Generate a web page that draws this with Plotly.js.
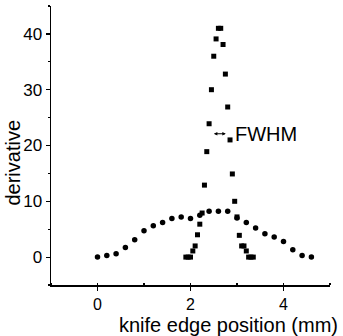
<!DOCTYPE html>
<html>
<head>
<meta charset="utf-8">
<script src="https://cdn.plot.ly/plotly-3.0.1.min.js"></script>
<style>html,body{margin:0;padding:0;background:#fff;}#chart{width:343px;height:336px;}</style>
</head>
<body>
<div id="chart"></div>
<script>
// Broad profile (circles)
const circleX = [0, 0.2, 0.4, 0.6, 0.8, 1.0, 1.2, 1.4, 1.6, 1.8, 2.0, 2.2, 2.4, 2.6, 2.8, 3.0, 3.2, 3.4, 3.6, 3.8, 4.0, 4.2, 4.4, 4.6];
const circleY = [0, 0.3, 0.6, 1.7, 3.1, 4.7, 5.6, 6.2, 6.9, 7.2, 6.9, 7.5, 8.2, 8.2, 8.2, 7.0, 6.2, 5.2, 4.2, 3.6, 2.8, 1.3, 0.3, 0];
// Narrow profile (squares)
const squareX = [1.9, 1.95, 2.0, 2.05, 2.1, 2.15, 2.2, 2.25, 2.3, 2.35, 2.4, 2.45, 2.5, 2.55, 2.6, 2.65, 2.7, 2.75, 2.8, 2.85, 2.9, 2.95, 3.0, 3.05, 3.1, 3.15, 3.2, 3.25, 3.3, 3.35];
const squareY = [0, 0, 0, 1.1, 2.0, 4.0, 5.9, 7.9, 12.9, 18.9, 23.9, 30, 36, 39.1, 41, 41, 38.1, 32.8, 26.9, 21, 14.9, 10, 7.2, 3.9, 2.0, 2.0, 1.1, 0, 0, 0];
// Axis ticks and labels
const xTicks = [0, 2, 4];
const yTicks = [0, 10, 20, 30, 40];
const xTitle = "knife edge position (mm)";
const yTitle = "derivative";
const fwhmLabel = "FWHM";
const fwhmArrowX = [2.47, 2.76];
const fwhmY = 22.1;

const font = "Liberation Sans, Arial, Helvetica, sans-serif";

const traces = [
  {x: circleX, y: circleY, type: "scatter", mode: "markers",
   marker: {symbol: "circle", size: 5.5, color: "#000"}, hoverinfo: "none"},
  {x: squareX, y: squareY, type: "scatter", mode: "markers",
   marker: {symbol: "square", size: 5, color: "#000"}, hoverinfo: "none"}
];

const layout = {
  width: 343, height: 336,
  margin: {l: 51, r: 13, t: 6, b: 51},
  paper_bgcolor: "#fff", plot_bgcolor: "#fff",
  showlegend: false,
  font: {family: font, color: "#000", size: 16},
  xaxis: {
    range: [-1, 5], tickvals: xTicks, ticktext: xTicks.map(String),
    showgrid: false, zeroline: false, showline: true, linecolor: "#000", linewidth: 1.5,
    ticks: "outside", ticklen: 4, tickwidth: 1.2, tickcolor: "#000",
    minor: {dtick: 1, ticks: "inside", ticklen: 2, tickcolor: "#000", showgrid: false},
    tickfont: {size: 16}
  },
  yaxis: {
    range: [-5, 45], tickvals: yTicks, ticktext: yTicks.map(String),
    showgrid: false, zeroline: false, showline: true, linecolor: "#000", linewidth: 1.5,
    ticks: "outside", ticklen: 4, tickwidth: 1.2, tickcolor: "#000",
    minor: {dtick: 5, ticks: "outside", ticklen: 2, tickcolor: "#000", showgrid: false},
    tickfont: {size: 17}
  },
  annotations: [
    {xref: "x", yref: "y", axref: "x", ayref: "y",
     x: fwhmArrowX[1], y: fwhmY, ax: fwhmArrowX[0], ay: fwhmY,
     text: "", showarrow: true, arrowside: "end+start", arrowhead: 2, arrowsize: 0.7, arrowwidth: 1, arrowcolor: "#000"},
    {xref: "x", yref: "y", x: 2.92, y: fwhmY, xanchor: "left", yanchor: "middle",
     text: fwhmLabel, showarrow: false, font: {size: 20, color: "#000"}},
    {xref: "paper", yref: "paper", x: 0.635, y: -0.142, xanchor: "center", yanchor: "middle",
     text: xTitle, showarrow: false, font: {size: 20, color: "#000"}},
    {xref: "paper", yref: "paper", x: -0.135, y: 0.44, xanchor: "center", yanchor: "middle",
     text: yTitle, textangle: -90, showarrow: false, font: {size: 20, color: "#000"}}
  ]
};

Plotly.newPlot("chart", traces, layout, {staticPlot: true, displayModeBar: false});
</script>
</body>
</html>
